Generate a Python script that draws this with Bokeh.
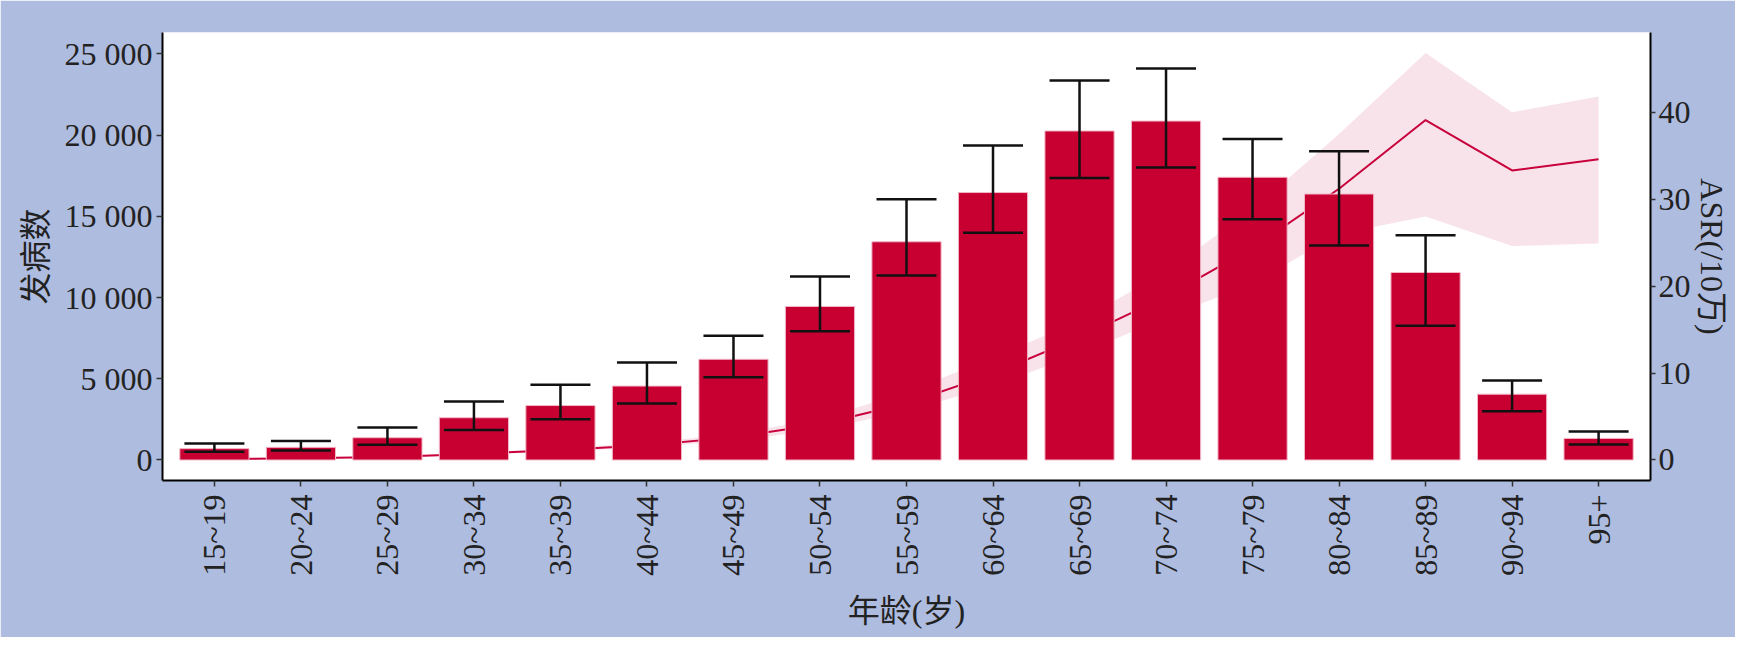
import math
from bokeh.plotting import figure
from bokeh.models import Range1d, LinearAxis, FixedTicker, ColumnDataSource, Whisker, TeeHead
from bokeh.embed import file_html
from bokeh.resources import INLINE

# ---- data ----
age_groups = ["15~19", "20~24", "25~29", "30~34", "35~39", "40~44", "45~49", "50~54",
              "55~59", "60~64", "65~69", "70~74", "75~79", "80~84", "85~89", "90~94", "95+"]
cases = [700, 780, 1370, 2600, 3350, 4550, 6200, 9450, 13430, 16460, 20250, 20860,
         17400, 16370, 11540, 4050, 1330]
cases_lower = [510, 580, 940, 1840, 2500, 3480, 5100, 7920, 11360, 13980, 17360, 18000,
               14820, 13200, 8260, 3000, 960]
cases_upper = [1020, 1170, 2000, 3600, 4630, 6000, 7640, 11300, 16050, 19350, 23350, 24100,
               19750, 19000, 13830, 4890, 1750]
asr = [0.1, 0.2, 0.35, 0.7, 1.15, 1.7, 2.6, 4.1, 6.5, 9.9, 14.1, 18.8, 24.4, 31.2, 39.1, 33.3, 34.6]
asr_lower = [0.06, 0.14, 0.27, 0.58, 0.98, 1.45, 2.2, 3.5, 5.6, 8.5, 12.2, 16.4, 20.3, 26.0, 28.0, 24.6, 24.9]
asr_upper = [0.15, 0.27, 0.44, 0.84, 1.35, 1.98, 3.0, 4.7, 7.8, 11.8, 16.0, 21.7, 28.8, 37.5, 46.8, 40.0, 41.8]
left_ticks = [0, 5000, 10000, 15000, 20000, 25000]
left_tick_labels = ["0", "5 000", "10 000", "15 000", "20 000", "25 000"]
right_ticks = [0, 10, 20, 30, 40]

xpos = list(range(1, len(age_groups) + 1))
src = ColumnDataSource(dict(x=xpos, cases=cases, lo=cases_lower, hi=cases_upper,
                            asr=asr, alo=asr_lower, ahi=asr_upper))

BG = "#AEBCDF"
SERIF = "Liberation Serif, Noto Sans CJK SC"
TXT = "#222222"

p = figure(width=1735, height=637, output_backend="svg", toolbar_location=None,
           x_range=Range1d(0.4, 17.6), y_range=Range1d(-1262, 26310),
           min_border_left=162, min_border_right=85, min_border_top=32, min_border_bottom=157)
p.extra_y_ranges = {"asr": Range1d(-2.36, 49.17)}
p.border_fill_color = BG
p.background_fill_color = "white"
p.outline_line_color = None
p.xgrid.visible = False
p.ygrid.visible = False

# ribbon and line (right axis)
p.varea(x="x", y1="alo", y2="ahi", source=src, y_range_name="asr",
        fill_color="#C8003C", fill_alpha=0.11)
p.line(x="x", y="asr", source=src, y_range_name="asr", line_color="#C8003C", line_width=2)

# bars
p.vbar(x="x", top="cases", bottom=0, width=0.8, source=src,
       fill_color="#C80032", line_color="#F2B8C8", line_width=1)

# error bars
w = Whisker(base="x", lower="lo", upper="hi", source=src, line_color="#111111", line_width=2.5,
            upper_head=TeeHead(size=60, line_color="#111111", line_width=2.5),
            lower_head=TeeHead(size=60, line_color="#111111", line_width=2.5),
            level="overlay")
p.add_layout(w)

def style_axis(ax):
    ax.axis_line_color = "black"
    ax.axis_line_width = 2
    ax.major_tick_line_color = "#333333"
    ax.major_tick_line_width = 1.5
    ax.major_tick_in = 0
    ax.major_tick_out = 6
    ax.minor_tick_line_color = None
    ax.major_label_text_font = SERIF
    ax.major_label_text_font_size = "32px"
    ax.major_label_text_color = TXT
    ax.axis_label_text_font = SERIF
    ax.axis_label_text_font_size = "32px"
    ax.axis_label_text_font_style = "normal"
    ax.axis_label_text_color = TXT

# x axis
xa = p.xaxis[0]
style_axis(xa)
xa.ticker = FixedTicker(ticks=xpos)
xa.major_label_overrides = {x: g for x, g in zip(xpos, age_groups)}
xa.major_label_orientation = math.pi / 2
xa.major_label_standoff = 8
xa.axis_label = "年龄(岁)"
xa.axis_label_standoff = 14

# left axis
ya = p.yaxis[0]
style_axis(ya)
ya.ticker = FixedTicker(ticks=left_ticks)
ya.major_label_overrides = {t: l for t, l in zip(left_ticks, left_tick_labels)}
ya.major_label_standoff = 4
ya.axis_label = "发病数"
ya.axis_label_standoff = 8

# right axis
ra = LinearAxis(y_range_name="asr", ticker=FixedTicker(ticks=right_ticks))
style_axis(ra)
ra.major_tick_out = 5
ra.major_label_standoff = 3
ra.axis_label = "ASR(/10万)"
ra.axis_label_standoff = 0
p.add_layout(ra, "right")

open("out.html", "w").write(file_html(p, INLINE))
